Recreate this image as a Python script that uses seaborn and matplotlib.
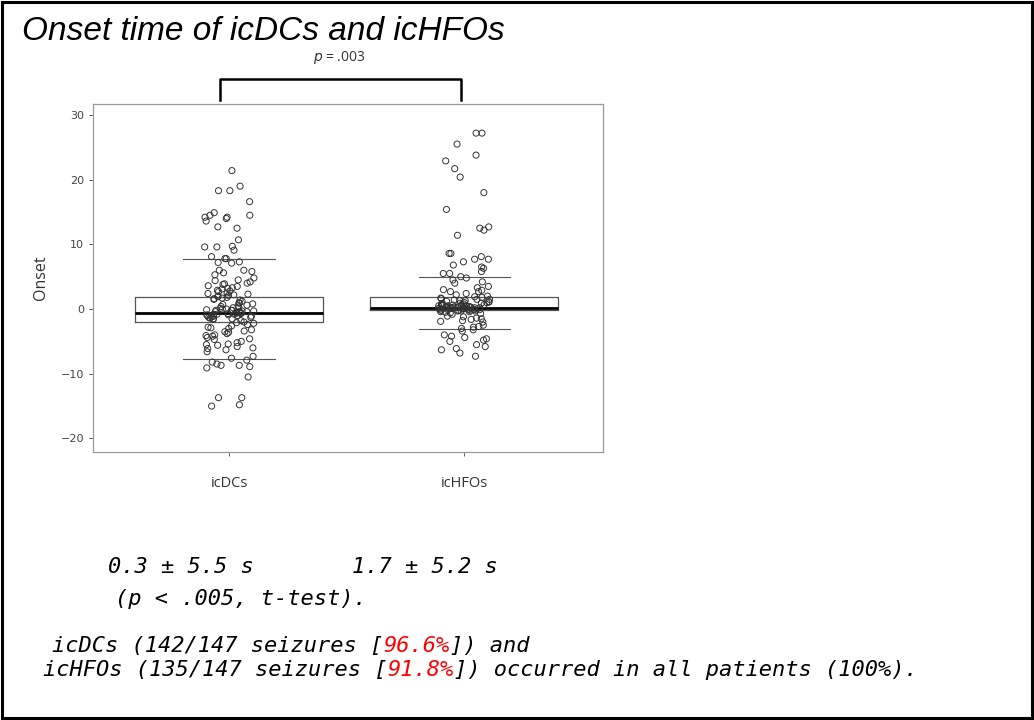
import numpy as np
import pandas as pd
import matplotlib
matplotlib.use("Agg")
import matplotlib.pyplot as plt
from matplotlib.patches import Rectangle
import seaborn as sns

# ---------------- data ----------------
categories = ["icDCs", "icHFOs"]

icdcs_onset = [
    21.4, 19.0, 18.3, 18.3, 16.6, 14.5, 14.5, 14.9, 13.6, 14.0, 14.2, 14.2,
    12.5, 12.7, 10.7, 9.1, 9.6, 9.7, 9.6, 7.8, 7.2, 7.3, 7.8, 8.1, 7.1,
    6.0, 6.0, 5.3, 5.6, 5.8,
    4.8, 4.5, 4.2, 4.0, 3.8, 3.6, 3.5, 3.3, 3.1, 4.4, 3.9, 3.2,
    2.9, 2.7, 2.5, 2.3, 2.2, 2.0, 1.9, 1.8, 1.6, 1.5, 2.8, 2.4, 2.1, 1.7, 1.4,
    1.2, 1.0, 0.9, 0.7, 0.5, 0.4, 0.2, 0.1, 0.0, -0.1, -0.2, -0.3, -0.4,
    -0.5, -0.6, -0.6, -0.7, -0.8, -0.9, -1.0, -1.1, -1.2, -1.3, -1.4, -1.5,
    -1.6, 0.8, 0.3, -0.2, -0.5, -0.8, -1.1, -0.4, -0.7, -0.9, 0.6, -0.3,
    -1.0, -1.3, -0.6, 0.0, -0.2, -0.8, -1.5,
    -1.8, -2.0, -2.2, -2.4, -2.6, -2.8, -3.0, -3.2, -3.4, -3.6, -3.8, -4.0,
    -4.2, -4.4, -4.6, -2.1, -2.9, -3.5, -4.1, -4.7,
    -5.0, -5.2, -5.4, -5.6, -5.8, -6.0, -6.3, -6.6, -5.5, -6.1,
    -7.3, -7.6, -7.9, -8.2, -8.5, -8.7, -8.9, -8.7, -9.1, -10.5,
    -13.7, -13.7, -15.0, -14.8,
]

ichfos_onset = [
    27.2, 27.2, 25.5, 23.8, 22.9, 21.7, 20.4, 18.0, 15.4, 12.2, 12.5, 12.7, 11.4,
    8.6, 8.6, 8.1, 7.7, 7.7, 7.3, 6.8, 6.5, 6.3, 5.5, 5.5, 5.8, 4.2, 4.0, 4.5,
    5.0, 4.8,
    3.0, 2.9, 2.4, 2.7, 2.7, 3.5, 3.3, 2.2, 2.0, 1.9,
    1.8, 1.7, 1.6, 1.5, 1.4, 1.3, 1.2, 1.1, 1.0, 0.9, 0.9, 0.8, 0.8, 0.7,
    0.7, 0.6, 0.6, 0.5, 0.5, 0.5, 0.4, 0.4, 0.4, 0.3, 0.3, 0.3, 0.3, 0.2,
    0.2, 0.2, 0.2, 0.1, 0.1, 0.1, 0.0, 0.0, 0.0, 0.0, -0.1, -0.1, -0.1,
    -0.2, -0.2, -0.3, -0.3, -0.4, -0.5, -0.6, -0.7, -0.8, 1.3, 1.0, 0.6,
    0.4, 0.2, 0.0, -0.2, -0.4, 0.9, 0.5, 0.1, -0.3, 0.7, 0.3, 1.5, 1.1,
    -1.2, -1.4, -1.6, -1.8, -2.0, -1.1, -1.5, -1.9,
    -2.5, -2.8, -3.0, -3.2, -3.4, -2.7,
    -4.0, -4.4, -4.8, -4.6, -5.0, -4.2,
    -5.8, -6.1, -6.3, -7.3, -6.8, -5.5,
]

# summary boxes
box_q1 = [-2.0, -0.2]
box_med = [-0.6, 0.2]
box_q3 = [1.85, 1.8]
line_low = [-7.7, -3.1]
line_high = [7.7, 5.0]

yticks = [-20, -10, 0, 10, 20, 30]
p_label = r"$\it{p}$ = .003"

df = pd.DataFrame({
    "group": [categories[0]] * len(icdcs_onset) + [categories[1]] * len(ichfos_onset),
    "Onset": icdcs_onset + ichfos_onset,
})

# ---------------- figure ----------------
W, H = 1034, 720
fig = plt.figure(figsize=(W / 100, H / 100), dpi=100)
fig.patch.set_facecolor("white")
fig.add_artist(Rectangle((0.002, 0.003), 0.996, 0.994, transform=fig.transFigure,
                         fill=False, edgecolor="black", linewidth=2.2))

ax = fig.add_axes([93 / W, 1 - 452 / H, (603 - 93) / W, (452 - 104) / H])

# boxes and caps
stats = []
for i, c in enumerate(categories):
    stats.append(dict(label=c, med=box_med[i], q1=box_q1[i], q3=box_q3[i],
                      whislo=line_low[i], whishi=line_high[i], fliers=[]))
ax.bxp(stats, positions=[0, 1], widths=0.8, capwidths=0.39, showfliers=False,
       patch_artist=False, manage_ticks=False,
       boxprops=dict(color="#555555", linewidth=0.9),
       whiskerprops=dict(linestyle="none"),
       capprops=dict(color="#555555", linewidth=0.8),
       medianprops=dict(color="black", linewidth=2.0))

np.random.seed(3)
sns.stripplot(data=df, x="group", y="Onset", order=categories, ax=ax,
              jitter=0.11, size=4.4, color="white", edgecolor="#333333",
              linewidth=0.7, zorder=3)
for coll in ax.collections:
    coll.set_facecolor("none")
    coll.set_edgecolor("#333333")

ax.set_xlim(-0.58, 1.59)
ax.set_ylim(-22.1, 31.7)
ax.set_yticks(yticks)
ax.set_yticklabels([str(t).replace("-", "\u2212") for t in yticks])
for s in ax.spines.values():
    s.set_color("#9a9a9a")
    s.set_linewidth(0.9)
ax.tick_params(axis="y", labelsize=8, colors="#555555", length=3, width=0.7,
               labelcolor="#444444")
ax.tick_params(axis="x", labelsize=10.5, length=3, width=0.7, colors="#666666",
               labelcolor="#333333", pad=14)
for lab in ax.get_xticklabels():
    lab.set_family(["Open Sans", "DejaVu Sans"])
ax.set_xlabel("")
ax.set_ylabel("Onset", fontsize=11.5, color="#333333", labelpad=8,
              family=["Open Sans", "DejaVu Sans"])

# significance bracket
ax.plot([-0.038, -0.038, 0.987, 0.987], [32.3, 35.5, 35.5, 32.3],
        color="black", linewidth=1.8, clip_on=False)
ax.text(0.47, 38.9, p_label, ha="center", va="center", fontsize=10,
        color="#333333", clip_on=False, family=["Open Sans", "DejaVu Sans"])

# ---------------- texts ----------------
tfam = ["Liberation Sans", "DejaVu Sans"]
fig.text(22 / W, 1 - 32 / H, "Onset time of icDCs and icHFOs", fontsize=24,
         style="italic", family=tfam, va="center", ha="left")

bfam = ["DejaVu Sans Mono", "DejaVu Sans"]
bfs = 15.8
kw = dict(fontsize=bfs, style="italic", family=bfam, va="baseline", ha="left")
fig.text(108 / W, 1 - 573 / H, "0.3 \u00b1 5.5 s", **kw)
fig.text(352 / W, 1 - 573 / H, "1.7 \u00b1 5.2 s", **kw)
fig.text(115 / W, 1 - 605 / H, "(p < .005, t-test).", **kw)


def chain(x, y, parts):
    prev = fig.text(x, y, parts[0][0], color=parts[0][1], **kw)
    for txt, col in parts[1:]:
        prev = ax.annotate(txt, xy=(1, 0), xycoords=prev, color=col,
                           fontsize=bfs, style="italic", family=bfam,
                           va="bottom", ha="left", annotation_clip=False)


chain(52 / W, 1 - 652 / H, [("icDCs (142/147 seizures [", "black"),
                            ("96.6%", "#ff0000"), ("]) and", "black")])
chain(43 / W, 1 - 676 / H, [("icHFOs (135/147 seizures [", "black"),
                            ("91.8%", "#ff0000"),
                            ("]) occurred in all patients (100%).", "black")])

fig.savefig("out.png", dpi=100, facecolor="white")
